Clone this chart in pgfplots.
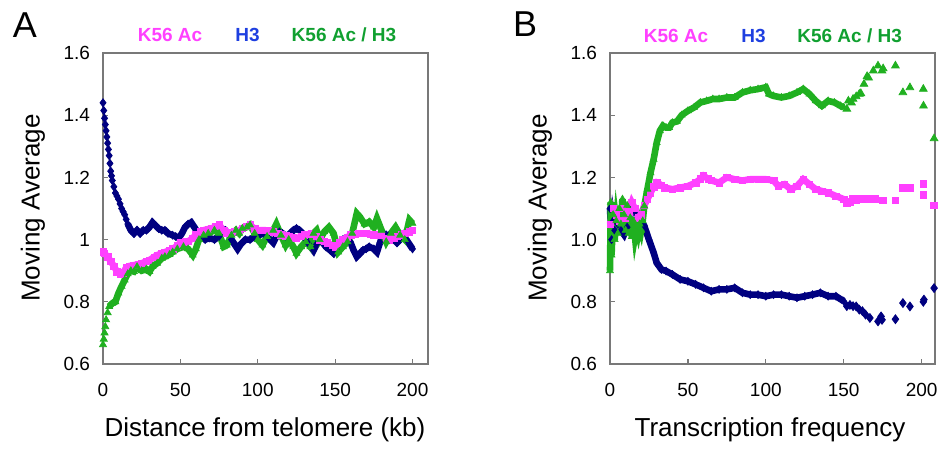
\documentclass[border=0pt]{standalone}
\usepackage{fontspec}
\setmainfont{Liberation Sans}
\usepackage{pgfplots}
\pgfplotsset{compat=1.18}
\definecolor{kac}{RGB}{255,64,255}
\definecolor{hthree}{RGB}{0,0,128}
\definecolor{ratio}{RGB}{32,176,32}
\definecolor{hthreetxt}{RGB}{30,63,224}
\definecolor{ratiotxt}{RGB}{16,160,48}
\definecolor{frame}{RGB}{120,120,120}

\pgfplotsset{
  panel/.style={
    scale only axis, width=162.5pt, height=155.5pt,
    ymin=0.6, ymax=1.6, ytick={0.6,0.8,1,1.2,1.4,1.6},
    xtick={0,50,100,150,200},
    axis line style={frame, line width=0.8pt},
    tick align=inside, xtick pos=bottom, ytick pos=left,
    major tick length=2.5pt, tick style={frame, line width=0.6pt},
    /pgf/number format/assume math mode=true,
    tick label style={font=\fontsize{9.5}{11}\selectfont},
    xticklabel style={yshift=-6pt},
    yticklabel style={xshift=-3pt},
  },
  hline/.style={line width=3.3pt, mark size=2pt, mark options={line width=0.3pt}},
}

\begin{document}
\begin{tikzpicture}
\path[use as bounding box] (0,0) rectangle (471pt,-224.5pt);

% ---------- panel A ----------
\begin{axis}[panel, at={(51.5pt,-182pt)}, anchor=south west, xmin=0, xmax=210]
% H3
\addplot[hthree, only marks, mark=diamond*, mark size=2pt] coordinates {
(0,1.44)(0.5,1.415)(1,1.39)(1.5,1.37)(2,1.35)(2.5,1.33)(3,1.31)(3.5,1.29)(4,1.27)(4.5,1.245)
(5,1.22)(5.5,1.205)(6,1.19)(7,1.17)(8,1.15)(9,1.14)(10,1.13)(11,1.115)(12,1.10)(13,1.09)
(14,1.08)(15,1.065)
};
\addplot[hthree, hline, mark=diamond*] coordinates {
(16,1.05)(18,1.03)(20,1.02)(22,1.03)(24,1.02)(26,1.03)(28,1.03)(30,1.04)
(32,1.055)(34,1.045)(36,1.035)(38,1.03)(40,1.03)(42,1.02)(45,1.014)(47,1.01)(49,1.005)(51,1.02)
(53,1.04)(55,1.05)(57,1.055)(59,1.04)(61,1.025)(63,1.01)(66,1.0)(69,1.005)(72,1.0)(75,1.01)
(77,1.025)(79,1.03)(81,1.02)(83,1.0)(85,0.985)(87,0.97)(89,0.985)(92,1.0)(95,1.0)(98,1.01)
(101,1.015)(104,1.02)(107,1.005)(110,0.99)(112,1.01)(114,1.025)(116,1.02)(118,1.01)(121,1.02)(123,1.03)
(125,1.036)(127,1.03)(129,1.02)(131,1.0)(133,0.985)(136,0.965)(138,0.985)(140,1.0)(142,0.99)(144,0.977)
(147,0.965)(149,0.956)(151,0.97)(153,0.99)(155,1.0)(157,1.004)(160,0.99)(162,0.965)(164,0.945)(166,0.955)
(168,0.966)(170,0.97)(172,0.977)(175,0.97)(177,0.96)(179,0.99)(181,1.02)(183,1.015)(185,1.014)(188,1.0)
(190,0.99)(192,1.0)(194,1.014)(196,1.0)(198,0.985)(200,0.97)
};
% K56 Ac
\addplot[kac, hline, mark=square*, mark size=1.6pt] coordinates {
(0,0.961)(1,0.955)(3,0.945)(5,0.93)(7,0.915)(9,0.897)(11,0.89)(13,0.893)(15,0.91)(17,0.915)
(20,0.918)(23,0.92)(25,0.924)(28,0.93)(30,0.934)(33,0.944)(35,0.95)(38,0.956)(40,0.96)(43,0.965)
(45,0.97)(48,0.98)(50,0.99)(53,0.993)(55,0.994)(58,1.005)(60,1.015)(63,1.025)(65,1.03)(68,1.034)
(70,1.036)(73,1.042)(75,1.047)(78,1.03)(80,1.02)(83,1.022)(85,1.025)(88,1.03)(90,1.036)(93,1.042)
(95,1.047)(98,1.035)(100,1.03)(103,1.03)(105,1.03)(108,1.028)(110,1.025)(113,1.02)(115,1.015)(118,1.012)
(120,1.01)(123,1.006)(125,1.004)(128,1.01)(130,1.015)(133,1.018)(135,1.02)(138,1.01)(140,1.0)(143,0.995)
(145,0.99)(148,0.982)(150,0.977)(153,0.99)(155,1.0)(158,1.008)(160,1.015)(163,1.018)(165,1.02)(168,1.02)
(170,1.02)(173,1.018)(175,1.015)(178,1.015)(180,1.015)(183,1.005)(185,1.0)(188,1.005)(190,1.01)(193,1.015)
(195,1.02)(198,1.025)(200,1.03)
};
% K56 Ac / H3
\addplot[ratio, only marks, mark=triangle*, mark size=2pt] coordinates {
(0,0.662)(0.5,0.68)(1,0.70)(1.5,0.72)(2,0.742)(3,0.765)
};
\addplot[ratio, hline, mark=triangle*] coordinates {
(4,0.785)(6,0.795)(8,0.80)(10,0.828)(12,0.85)(14,0.87)(16,0.89)
(18,0.90)(20,0.897)(22,0.913)(25,0.90)(28,0.905)(30,0.897)(32,0.913)(35,0.924)(38,0.94)(40,0.945)
(43,0.952)(45,0.96)(48,0.97)(52,0.977)(55,0.97)(58,0.95)(60,0.97)(62,1.0)(65,1.014)(68,1.02)
(72,1.03)(75,1.02)(78,0.977)(80,0.982)(83,1.014)(86,1.03)(88,1.02)(90,1.036)(93,1.04)(95,1.047)
(98,1.02)(100,1.0)(103,0.982)(106,1.01)(110,1.03)(112,1.05)(115,1.014)(118,0.982)(120,1.0)(123,0.977)
(125,0.956)(128,0.977)(131,0.993)(134,0.977)(136,1.02)(138,1.03)(140,1.0)(143,1.025)(146,1.04)(149,1.02)
(152,0.96)(155,0.977)(158,0.993)(161,1.02)(164,1.084)(166,1.073)(169,1.05)(172,1.057)(175,1.04)(177,1.068)
(180,1.03)(183,0.993)(186,1.02)(189,1.04)(192,1.014)(195,1.0)(198,1.063)(200,1.052)
};
\end{axis}

% ---------- panel B ----------
\begin{axis}[panel, at={(305pt,-182pt)}, anchor=south west, xmin=0, xmax=208.6,
  clip=false, yticklabel style={/pgf/number format/.cd, fixed, fixed zerofill, precision=1}]
% H3
\addplot[hthree, hline, mark=diamond*] coordinates {
(0,1.10)(1,1.0)(2,1.06)(3,1.03)(5,1.05)(7,1.03)(9,1.016)(11,1.04)(13,1.09)(14.5,1.107)
(16,1.09)(18,1.07)(20,1.06)(22,1.044)(25,1.0)(28,0.958)(30,0.925)(33,0.904)(36,0.899)(40,0.888)
(45,0.872)(50,0.866)(55,0.856)(60,0.845)(65,0.834)(70,0.84)(75,0.84)(80,0.845)(85,0.829)(90,0.823)
(95,0.823)(100,0.818)(105,0.823)(110,0.823)(115,0.818)(120,0.813)(125,0.818)(130,0.823)(135,0.829)(140,0.818)
(145,0.818)(150,0.802)
};
\addplot[hthree, only marks, mark=diamond*, mark size=2.2pt] coordinates {
(152,0.786)(154,0.79)(156,0.786)(158,0.785)(160,0.775)(162,0.77)(164,0.759)(166.8,0.748)
(172,0.737)(174,0.753)(174.6,0.742)(183.2,0.744)(188,0.796)(192.5,0.785)(201.1,0.80)(201.5,0.807)(208,0.844)
};
% K56 Ac
\addplot[kac, hline, mark=square*, mark size=1.6pt] coordinates {
(0,1.05)(2,1.10)(4,1.08)(6,1.06)(8,1.10)(10,1.07)(12,1.09)(14,1.12)(16,1.10)(18,1.07)
(20,1.08)(22,1.11)(24,1.13)(26,1.15)(28,1.17)(30,1.183)(33,1.175)(35,1.167)(40,1.162)(45,1.167)
(50,1.172)(55,1.183)(58,1.195)(60,1.205)(63,1.195)(65,1.19)(70,1.183)(75,1.20)(80,1.194)(85,1.19)
(90,1.194)(95,1.194)(100,1.194)(105,1.19)(108,1.172)(112,1.178)(116,1.162)(120,1.172)(124,1.194)(128,1.178)
(132,1.162)(136,1.156)(140,1.151)(145,1.14)(150,1.13)
};
\addplot[kac, only marks, mark=square*, mark size=1.7pt] coordinates {
(152,1.117)(154,1.12)(156,1.13)(158,1.128)(160,1.13)(163,1.13)(165,1.13)(168,1.13)(170,1.13)
(175.3,1.126)(183.2,1.126)(188,1.167)(192.5,1.166)(201.1,1.18)(201.2,1.143)(208,1.11)
};
% K56 Ac / H3
\addplot[ratio, hline, mark=triangle*] coordinates {
(0,0.90)(0.5,1.12)(1,0.95)(2,1.08)(3,1.0)(4,1.06)(5,1.02)(6,1.10)(7,1.05)(8,1.13)
(9,1.08)(10,1.03)(11,1.11)(12,1.02)(13,1.07)(14,1.01)(15,1.06)(16,1.01)(17,1.04)(18,1.02)
(19,1.05)(20,1.03)(21,1.06)(22,1.108)(24,1.162)(26,1.215)(28,1.258)(30,1.312)(32,1.35)(34,1.366)
(36,1.36)(38,1.36)(40,1.376)(43,1.38)(46,1.40)(50,1.414)(54,1.425)(58,1.441)(62,1.446)(66,1.452)
(70,1.452)(75,1.457)(80,1.457)(85,1.473)(90,1.48)(95,1.484)(100,1.49)(102,1.468)(105,1.462)(110,1.457)
(115,1.462)(120,1.473)(124,1.484)(128,1.468)(132,1.446)(136,1.43)(140,1.446)(144,1.441)(148,1.43)(150,1.425)
};
\addplot[ratio, only marks, mark=triangle*, mark size=2.2pt] coordinates {
(152,1.42)(153,1.446)(155,1.44)(156,1.452)(158,1.46)(160,1.468)(161,1.47)(163,1.5)(165,1.525)(166,1.52)
(169,1.543)(172,1.559)(174.6,1.543)(175.3,1.55)(183.2,1.559)(188,1.473)(192.5,1.489)(201.1,1.484)(201.2,1.43)(208,1.325)
};
\end{axis}

% ---------- labels ----------
\node[font=\fontsize{18}{20}\selectfont] at (12.5pt,-12.5pt) {A};
\node[font=\fontsize{18}{20}\selectfont] at (262.5pt,-12pt) {B};

\node[rotate=90, font=\fontsize{13}{15}\selectfont] at (16.5pt,-104pt) {Moving Average};
\node[rotate=90, font=\fontsize{13}{15}\selectfont] at (270pt,-104pt) {Moving Average};
\node[font=\fontsize{13}{15}\selectfont] at (132.5pt,-215pt) {Distance from telomere (kb)};
\node[font=\fontsize{13}{15}\selectfont] at (385pt,-215pt) {Transcription frequency};

\begin{scope}[every node/.style={font=\bfseries\fontsize{9.5}{11}\selectfont}]
\node[text=kac] at (85pt,-17.5pt) {K56 Ac};
\node[text=hthreetxt] at (123.75pt,-17.5pt) {H3};
\node[text=ratiotxt] at (172pt,-17.5pt) {K56 Ac / H3};
\node[text=kac] at (338pt,-18pt) {K56 Ac};
\node[text=hthreetxt] at (376.8pt,-18pt) {H3};
\node[text=ratiotxt] at (424.8pt,-18pt) {K56 Ac / H3};
\end{scope}
\end{tikzpicture}
\end{document}
